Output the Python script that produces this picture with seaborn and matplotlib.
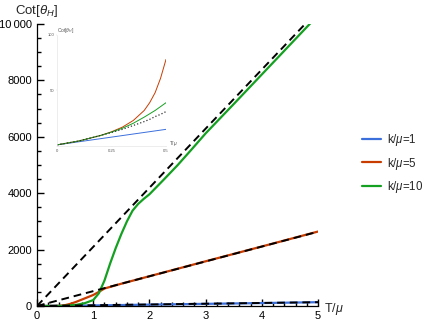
import numpy as np
import pandas as pd
import matplotlib
matplotlib.use("Agg")
import matplotlib.pyplot as plt
import seaborn as sns
from matplotlib.ticker import MultipleLocator, FuncFormatter

# main panel curves
t_blue = [0, 0.5, 1, 2, 3, 4, 5]
cot_blue = [0, 6, 20, 48, 76, 104, 135]

t_red = [0, 0.3, 0.4, 0.5, 0.6, 0.7, 0.8, 0.9, 1.0, 1.1, 1.2, 1.5, 2, 3, 4, 5]
cot_red = [0, 0, 5, 30, 80, 150, 230, 310, 390, 500, 620, 790, 1055, 1585, 2110, 2640]

t_green = [0, 0.3, 0.5, 0.7, 0.85, 1.0, 1.1, 1.2, 1.3, 1.4, 1.5, 1.6, 1.7, 1.8, 1.9, 2.0,
           2.25, 2.5, 2.75, 3.0, 3.5, 4.0, 4.5, 5.0]
cot_green = [0, 0, 5, 40, 100, 210, 450, 900, 1500, 2050, 2550, 3000, 3380, 3620, 3800, 3960,
             4470, 4990, 5550, 6120, 7160, 8210, 9260, 10310]

# linear asymptotes (dashed)
t_asym = [0, 5]
asym_blue = [0, 135]
asym_red = [0, 2635]
asym_green = [0, 10480]

# inset: low temperature zoom
t_in = [0, 0.1, 0.2, 0.25, 0.3, 0.35, 0.4, 0.425, 0.45, 0.475, 0.5]
in_blue = [1, 3.8, 6.6, 8, 9.4, 10.8, 12.2, 12.9, 13.6, 14.3, 15]
in_red = [1, 4.5, 9.5, 12.8, 17, 23, 32, 39, 48, 61, 78]
in_green = [1, 4.5, 9.5, 12.5, 16, 20.5, 26, 29, 32, 35.5, 39]
in_dot = [1, 4.5, 9.5, 12.2, 15, 18.5, 22, 24, 26.5, 28.5, 31]

labels = [r"k/$\mu$=1", r"k/$\mu$=5", r"k/$\mu$=10"]
colors = ["#3b6fdc", "#c83c00", "#14a020"]

sns.set_style("ticks")
plt.rcParams["font.family"] = ["Liberation Sans", "DejaVu Sans"]
plt.rcParams["mathtext.fontset"] = "custom"
plt.rcParams["mathtext.rm"] = "Liberation Sans"
plt.rcParams["mathtext.it"] = "Liberation Sans:italic"

df = pd.concat([
    pd.DataFrame({"T": t_blue, "cot": cot_blue, "k": labels[0]}),
    pd.DataFrame({"T": t_red, "cot": cot_red, "k": labels[1]}),
    pd.DataFrame({"T": t_green, "cot": cot_green, "k": labels[2]}),
])

fig = plt.figure(figsize=(4.3, 3.27), dpi=100)
ax = fig.add_axes([37 / 430, 21 / 327, 281 / 430, 282 / 327])

sns.lineplot(data=df, x="T", y="cot", hue="k", palette=colors, sort=False,
             estimator=None, lw=1.6, ax=ax)
for ys in [asym_blue, asym_red, asym_green]:
    sns.lineplot(x=t_asym, y=ys, color="black", lw=1.4, ax=ax, legend=False)
    ax.lines[-1].set_dashes((4, 2.5))

ax.set_xlim(0, 5)
ax.set_ylim(0, 10000)
for s in ["top", "right"]:
    ax.spines[s].set_visible(False)
for s in ["left", "bottom"]:
    ax.spines[s].set_color("black")
    ax.spines[s].set_linewidth(0.9)
ax.xaxis.set_major_locator(MultipleLocator(1))
ax.xaxis.set_minor_locator(MultipleLocator(0.2))
ax.yaxis.set_major_locator(MultipleLocator(2000))
ax.yaxis.set_minor_locator(MultipleLocator(500))
ax.yaxis.set_major_formatter(FuncFormatter(
    lambda v, p: "10\u2009000" if v >= 10000 else f"{v:.0f}"))
ax.tick_params(which="both", direction="in", labelsize=8, width=1.0,
               color="black", labelcolor="black", left=True, bottom=True)
ax.tick_params(which="major", length=5)
ax.tick_params(which="minor", length=3)
ax.set_xlabel(r"T/$\mu$", fontsize=9, ha="left", va="center")
ax.xaxis.set_label_coords(1.022, -0.012)
ax.set_ylabel(r"Cot[$\theta_H$]", fontsize=9.5, rotation=0, ha="center", va="center")
ax.yaxis.set_label_coords(0.0, 1.045)

h, l = ax.get_legend_handles_labels()
ax.get_legend().remove()
fig.legend(h, l, loc="center left", bbox_to_anchor=(352 / 430, 0.5), frameon=False,
           fontsize=8.3, handlelength=1.6, handletextpad=0.5, labelspacing=0.62)

# inset
ins = fig.add_axes([57 / 430, 181 / 327, 109 / 430, 111 / 327])
for ys, c in zip([in_blue, in_red, in_green], colors):
    sns.lineplot(x=t_in, y=ys, color=c, lw=0.7, ax=ins, legend=False)
sns.lineplot(x=t_in, y=in_dot, color="#333333", lw=0.9, ax=ins, legend=False)
ins.lines[-1].set_linestyle(":")
ins.set_xlim(0, 0.5)
ins.set_ylim(0, 100)
ins.patch.set_alpha(0)
for s in ["top", "right"]:
    ins.spines[s].set_visible(False)
for s in ["left", "bottom"]:
    ins.spines[s].set_color("#e6e6e6")
    ins.spines[s].set_linewidth(0.5)
ins.set_xticks([0, 0.25, 0.5])
ins.set_xticklabels(["0", "0.25", "0.5"])
ins.set_yticks([50, 100])
ins.tick_params(labelsize=3, length=1, width=0.3, color="#dddddd",
                labelcolor="#555555", pad=1)
ins.set_xlabel(r"T/$\mu$", fontsize=3.5, color="#555555", ha="left", va="center")
ins.xaxis.set_label_coords(1.03, 0.02)
ins.set_ylabel(r"Cot[$\theta_H$]", fontsize=3.5, color="#555555", rotation=0,
               ha="left", va="bottom")
ins.yaxis.set_label_coords(0.0, 1.0)

fig.savefig("out.png", dpi=100)
